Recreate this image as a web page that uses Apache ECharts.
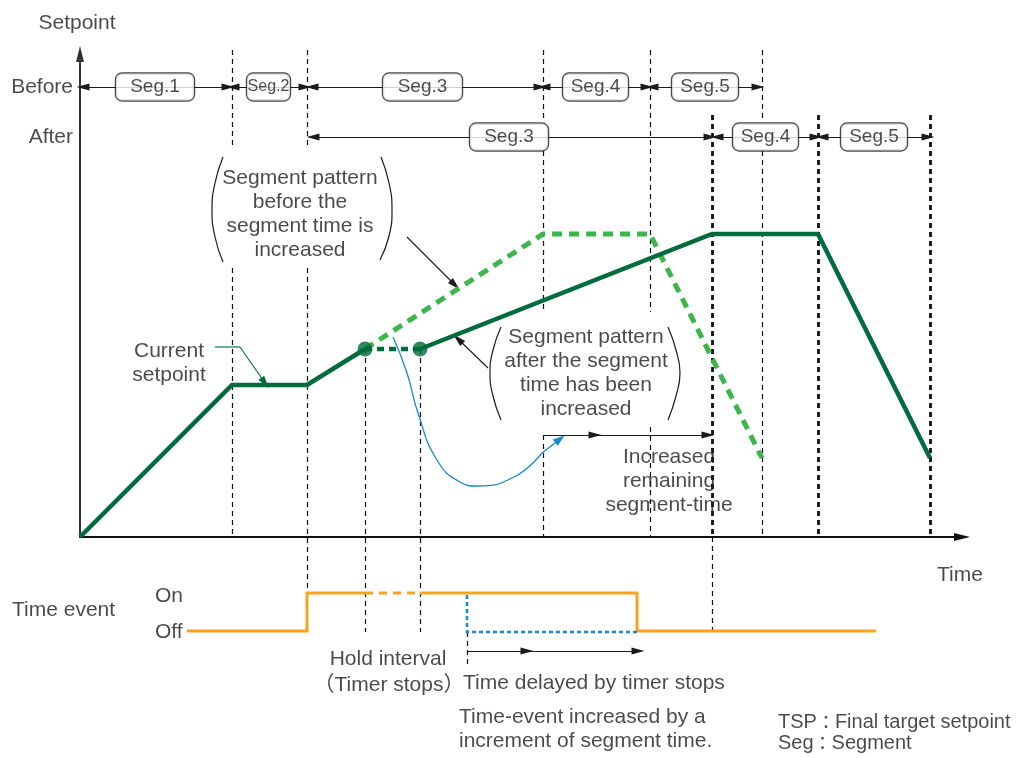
<!DOCTYPE html>
<html><head><meta charset="utf-8">
<script src="https://cdn.jsdelivr.net/npm/echarts@6.0.0/dist/echarts.min.js"></script>
<style>html,body{margin:0;padding:0;background:#fff}#c{width:1019px;height:758px}</style>
</head><body><div id="c"></div>
<script>
// ---- data (time t, setpoint s) ----
const currentSP = [[0,0],[152,152],[227,152],[285,188]];
const holdSP = [[285,188],[340,188]];
const afterSP = [[340,188],[632,303],[738,303],[850,79]];
const beforeSP = [[285,188],[463,303],[570,303],[682,79]];
const holdPoints = [[285,188],[340,188]];

const eventOnA = [[107,-94],[227,-94],[227,-56],[285,-56]];
const eventHold = [[285,-56],[340,-56]];
const eventOnB = [[340,-56],[557,-56],[557,-94],[796,-94]];
const eventExtended = [[387,-58],[387,-95],[557,-95]];

const blueCurve = [[313,200],[327,164],[338,124],[357,77],[380,55],[397,51],[434,60],[462,84]];
const blueArrow = [[462,84],[480,98]];

// vertical guides: [t, sFrom, sTo]
const guideThin = [[152,487,389],[152,269,0],[227,487,389],[227,269,-56],[285,188,-95],[340,188,-95],
  [463,487,415],[463,386,225],[463,102,0],[570,487,225],[570,110,0],[682,487,415],[682,386,0],[632,0,-93],[387,-95,-128]];
const guideThick = [[632,422,0],[738,422,0],[850,422,0]];

// segment rows
const rowBefore = 450, rowAfter = 400;
const segBeforeNames = ['Seg.1','Seg.2','Seg.3','Seg.4','Seg.5'];
const segBeforeStart = [3,153,232,464,572];
const segBeforeEnd = [148,225,460,567,678];
const segBeforeMid = [75,188.5,342.5,515.5,625];
const segAfterNames = ['Seg.3','Seg.4','Seg.5'];
const segAfterStart = [233,637,742];
const segAfterEnd = [630,736,848];
const segAfterMid = [429,685.5,794];

// annotation arrows
const blackArrows = [
  [[327,300],[375,252]],
  [[408,169],[378,198]],
  [[463,102],[515,102]],
  [[518,102],[628,102]],
  [[388,-114],[447,-114]],
  [[447,-114],[558,-114]]
];
const currentLead = [[135,190],[160,190]];
const currentArrow = [[160,190],[185,154]];

// parentheses
const parens = [
  [[143,380],[135,354],[132,327],[135,300],[143,275]],
  [[301,380],[309,354],[312,327],[309,301],[300,277]],
  [[421,210],[413,187],[410,164],[413,141],[421,117]],
  [[588,210],[596,187],[600,164],[596,141],[588,117]]
];

// text labels
const labelTexts = ['Setpoint','Before','After',
  'Segment pattern\nbefore the\nsegment time is\nincreased',
  'Current\nsetpoint',
  'Segment pattern\nafter the segment\ntime has been\nincreased',
  'Increased\nremaining\nsegment-time',
  'Time','Time event','On','Off','Hold interval','（Timer stops）',
  'Time delayed by timer stops',
  'Time-event increased by a\nincrement of segment time.',
  'TSP：Final target setpoint\nSeg：Segment'];
const labelAt = [[-3,514],[-7,450],[-7,400],[220,323],[89,174],[506,164],[589,56],
  [880,-38],[-68,-73],[75,-59],[75,-95],[308,-122],[309,-148],[383,-146],[379,-192],[698,-196]];

// ---- styles ----
const FONT = "'Liberation Sans', Arial, 'Noto Sans CJK JP', sans-serif";
const INK = '#1e1a1b';
const DARK = '#006b3c';
const LIGHT = '#3cb54a';
const ORANGE = '#f7a41d';
const BLUE = '#1b87cc';
const labelAlign = ['center','right','right','center','center','center','center','center','left','left','left','center','center','left','left','left'];
const labelLH = [24,24,24,24,24,24,24,24,24,24,24,24,24,24,24,21];
const labelSize = [21,21,21,21,21,21,21,21,21,21,21,21,21,21,21,20];
const boxBeforeW = [80,45,81,67,68];
const boxAfterW = [80,67,68];

function lineS(data, color, width, type, extra){
  return Object.assign({type:'line', data:data, showSymbol:false, symbol:'none', clip:false, silent:true,
    lineStyle:{color:color, width:width, type:type||'solid', cap:'butt', join:'miter'}, z:3}, extra||{});
}
function linesS(items, color, width, type, symbol, size, z){
  return {type:'lines', coordinateSystem:'cartesian2d', clip:false, silent:true, polyline:false,
    symbol:symbol||'none', symbolSize:size||10, z:z||2,
    lineStyle:{color:color, width:width, type:type||'solid', opacity:1},
    data: items.map(c => ({coords:c}))};
}

const guideItems = g => g.map(v => [[v[0],v[1]],[v[0],v[2]]]);
const rowItems = (st,en,row) => st.map((s,i)=>[[s,row],[en[i],row]]);
const ARROW = [[7,13],[7,13]];

const series = [];
series.push(linesS(guideItems(guideThin), '#111', 1.2, [5,4], 'none', 0, 1));
series.push(linesS(guideItems(guideThick), '#111', 2.8, [5,4], 'none', 0, 1));
series.push(lineS(beforeSP, LIGHT, 5, [10,7]));
series.push(lineS(currentSP, DARK, 4.5));
series.push(lineS(holdSP, DARK, 4.5, [7,5]));
series.push(lineS(afterSP, DARK, 4.5));
series.push({type:'scatter', data:holdPoints, symbolSize:15, itemStyle:{color:DARK}, clip:false, silent:true, z:4});
series.push(lineS(eventOnA, ORANGE, 3));
series.push(lineS(eventHold, ORANGE, 3, [8,6]));
series.push(lineS(eventOnB, ORANGE, 3));
series.push(lineS(eventExtended, BLUE, 2.5, [4,3], {z:4}));
series.push(lineS(blueCurve, BLUE, 1.3, 'solid', {smooth:0.5}));
series.push(linesS([blueArrow], BLUE, 1.3, 'solid', ['none','triangle'], [[8,12],[8,12]], 3));
series.push(linesS(blackArrows, INK, 1.1, 'solid', ['none','triangle'], ARROW, 3));
series.push(lineS(currentLead, DARK, 1.1));
series.push(linesS([currentArrow], DARK, 1.1, 'solid', ['none','triangle'], ARROW, 3));
series.push(linesS(rowItems(segBeforeStart, segBeforeEnd, rowBefore), INK, 1.2, 'solid', ['triangle','triangle'], ARROW, 2));
series.push(linesS(rowItems(segAfterStart, segAfterEnd, rowAfter), INK, 1.2, 'solid', ['triangle','triangle'], ARROW, 2));

function boxes(names, mids, row, widths){
  return {type:'scatter', clip:false, silent:true, z:10, symbolSize:1,
    itemStyle:{color:'rgba(0,0,0,0)'},
    data: names.map((n,i)=>({value:[mids[i],row],
      label:{show:true, position:'inside', formatter:n, color:INK, fontFamily:FONT,
        fontSize: widths[i] < 50 ? 16 : 19, lineHeight:21, align:'center', verticalAlign:'middle',
        width: widths[i] - 2, height:21, padding:[3,0,3,0],
        backgroundColor:'#fff', borderColor:INK, borderWidth:1.2, borderRadius:6}}))};
}
series.push(boxes(segBeforeNames, segBeforeMid, rowBefore, boxBeforeW));
series.push(boxes(segAfterNames, segAfterMid, rowAfter, boxAfterW));

parens.forEach(p => series.push(lineS(p, INK, 1.2, 'solid', {smooth:true})));

series.push({type:'scatter', clip:false, silent:true, z:20, symbolSize:1,
  itemStyle:{color:'rgba(0,0,0,0)'},
  data: labelTexts.map((t,i)=>({value:labelAt[i],
    label:{show:true, position:'inside', formatter:t.replace(/：/g,'{c|：}'), align:labelAlign[i], verticalAlign:'middle',
      color:INK, fontFamily:FONT, fontSize:labelSize[i], lineHeight:labelLH[i],
      rich:{c:{fontSize:18, color:INK, fontFamily:"'Noto Sans CJK JP', sans-serif", lineHeight:labelLH[i]}}}}))});

const chart = echarts.init(document.getElementById('c'));
chart.setOption({
  animation:false,
  backgroundColor:'#fff',
  grid:{left:80, top:54, width:882, height:483, containLabel:false},
  xAxis:{type:'value', min:0, max:882, axisTick:{show:false}, axisLabel:{show:false}, splitLine:{show:false},
    axisLine:{show:true, onZero:false, symbol:['none','triangle'], symbolSize:[8,16], lineStyle:{color:'#111', width:2}}},
  yAxis:{type:'value', min:0, max:483, axisTick:{show:false}, axisLabel:{show:false}, splitLine:{show:false},
    axisLine:{show:true, onZero:false, symbol:['none','triangle'], symbolSize:[8,16], lineStyle:{color:'#333', width:2}}},
  series: series
});
</script>
</body></html>
